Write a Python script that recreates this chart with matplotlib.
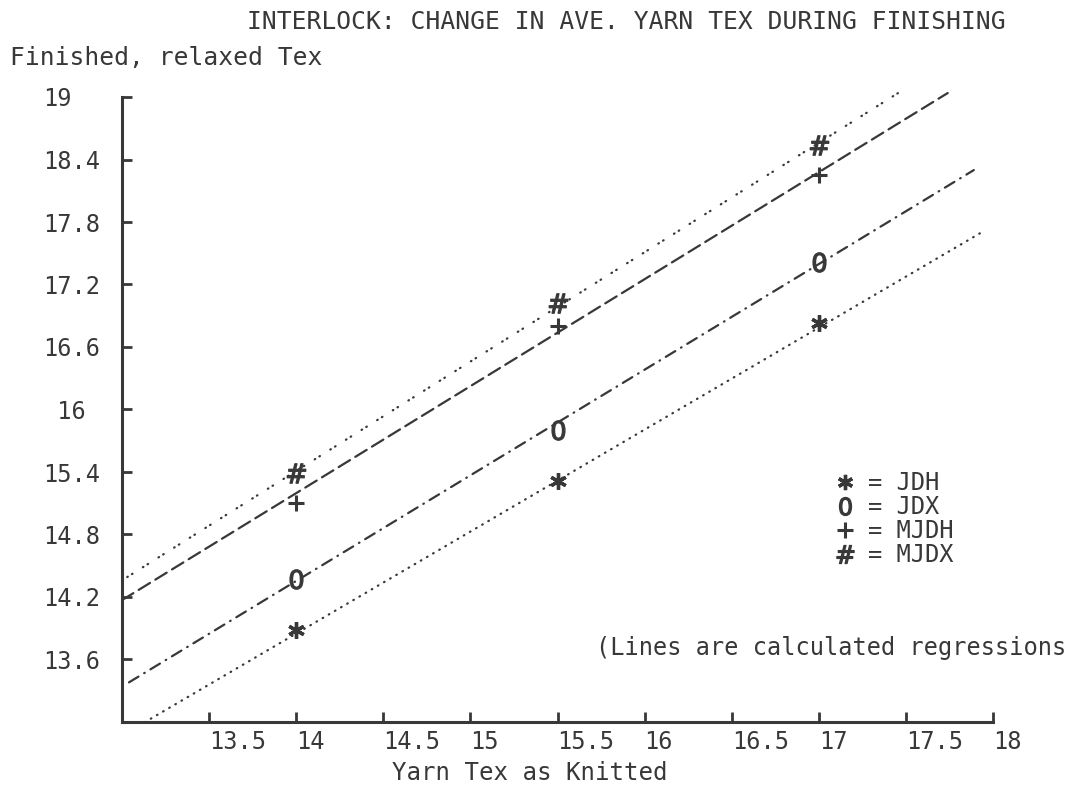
import matplotlib
matplotlib.use("Agg")
import matplotlib.pyplot as plt
from matplotlib.lines import Line2D
import numpy as np

# ---- data ----
series = ["JDH", "JDX", "MJDH", "MJDX"]
x_knitted = [14.0, 15.5, 17.0]
jdh = [13.88, 15.31, 16.83]
jdx = [14.37, 15.80, 17.42]
mjdh = [15.10, 16.80, 18.25]
mjdx = [15.39, 17.02, 18.54]
values = [jdh, jdx, mjdh, mjdx]

# regression lines: y = intercept_at_13 + slope * (x - 13), drawn over [x_start, x_end]
reg_intercept13 = [12.87, 13.34, 14.17, 14.36]
reg_slope = [0.979, 1.014, 1.027, 1.050]
reg_x_start = [13.13, 13.04, 13.00, 13.03]
reg_x_end = [17.93, 17.89, 17.74, 17.46]

xticks = [13.5, 14, 14.5, 15, 15.5, 16, 16.5, 17, 17.5, 18]
xticklabels = ["13.5", "14", "14.5", "15", "15.5", "16", "16.5", "17", "17.5", "18"]
yticks = [13.6, 14.2, 14.8, 15.4, 16.0, 16.6, 17.2, 17.8, 18.4, 19.0]
yticklabels = ["13.6", "14.2", "14.8", "15.4", " 16", "16.6", "17.2", "17.8", "18.4", "19"]

title = "INTERLOCK: CHANGE IN AVE. YARN TEX DURING FINISHING"
ylabel = "Finished, relaxed Tex"
xlabel = "Yarn Tex as Knitted"
note = "(Lines are calculated regressions"

# ---- style ----
INK = "#383838"
FONT = "DejaVu Sans Mono"
FS = 17
FS_T = 17.7
plt.rcParams["font.family"] = [FONT, "DejaVu Sans"]

W, H = 1072, 787
fig = plt.figure(figsize=(W / 100, H / 100), dpi=100)
ax = fig.add_axes([122 / W, 1 - 722 / H, (993 - 122) / W, (722 - 97) / H])
ax.set_xlim(13, 18)
ax.set_ylim(13, 19)

lw = 1.6
line_styles = [
    (0, (0.3, 2.9)),
    (0, (5.0, 3.0, 0.3, 3.0)),
    (0, (6.0, 2.8)),
    (0, (0.3, 2.2, 0.3, 5.5)),
]
for i in range(4):
    xs = np.array([reg_x_start[i], reg_x_end[i]])
    ys = reg_intercept13[i] + reg_slope[i] * (xs - 13)
    ax.plot(xs, ys, color=INK, lw=lw, linestyle=line_styles[i],
            dash_capstyle="round", solid_capstyle="round", clip_on=False)

markers = [(6, 2, 0), "$0$", "+", r"$\#$"]
msizes = [12, 14, 12, 14]
mews = [2.4, 0.9, 2.2, 0.9]
for i in range(4):
    ax.plot(x_knitted, values[i], linestyle="none", marker=markers[i],
            markersize=msizes[i], markeredgewidth=mews[i], color=INK,
            markerfacecolor=INK, markeredgecolor=INK, clip_on=False)

for side in ["top", "right"]:
    ax.spines[side].set_visible(False)
for side in ["left", "bottom"]:
    ax.spines[side].set_color(INK)
    ax.spines[side].set_linewidth(2.2)

ax.set_xticks(xticks)
ax.set_xticklabels(xticklabels, ha="left")
ax.set_yticks(yticks)
ax.set_yticklabels(yticklabels, ha="left")
ax.tick_params(axis="both", direction="in", length=7, width=2, color=INK,
               labelcolor=INK, labelsize=FS)
ax.tick_params(axis="y", pad=57)
ax.tick_params(axis="x", pad=6)

fig.text(247 / W, 1 - 22 / H, title, ha="left", va="center", fontsize=FS_T, color=INK)
fig.text(10 / W, 1 - 58 / H, ylabel, ha="left", va="center", fontsize=FS_T, color=INK)
fig.text(392 / W, 1 - 773 / H, xlabel, ha="left", va="center", fontsize=17.4, color=INK)
fig.text(1066 / W, 1 - 648 / H, note, ha="right", va="center", fontsize=FS, color=INK)

handles = [Line2D([], [], linestyle="none", marker=markers[i], markersize=msizes[i] - 1,
                  markeredgewidth=mews[i], color=INK, markerfacecolor=INK,
                  markeredgecolor=INK) for i in range(4)]
ax.legend(handles, ["= " + s for s in series], loc="upper left",
          bbox_to_anchor=(833 / W, 1 - 471 / H), bbox_transform=fig.transFigure,
          frameon=False, fontsize=FS, labelcolor=INK, handlelength=1.0,
          handletextpad=0.5, labelspacing=0.0, borderpad=0, borderaxespad=0)

fig.savefig("out.png", dpi=100, facecolor="white")
